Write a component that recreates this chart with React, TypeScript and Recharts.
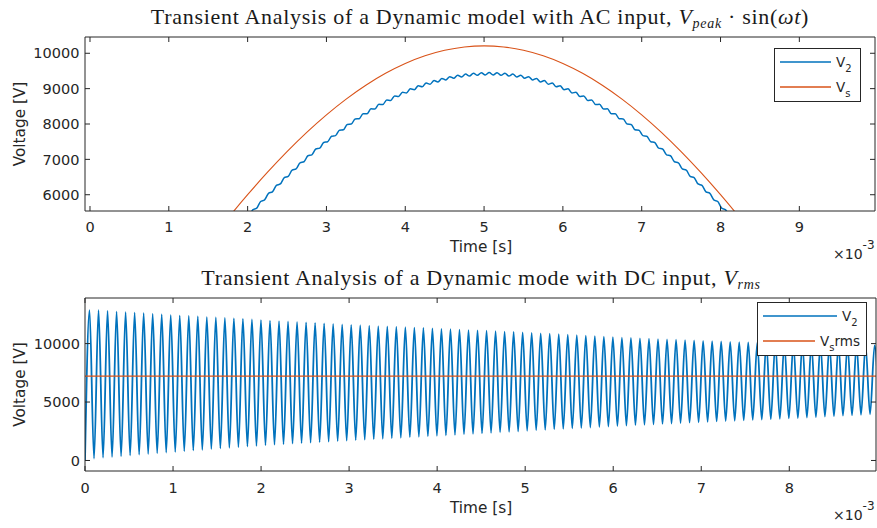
import { LineChart, Line, XAxis, YAxis, Legend } from "recharts";

// ---------- top subplot: AC input (time in ms) ----------
const acTicksX = [0, 1, 2, 3, 4, 5, 6, 7, 8, 9];
const acTicksY = [6000, 7000, 8000, 9000, 10000];

const acSourceTimeMs = [
  1.5, 1.75, 2.0, 2.25, 2.5, 2.75, 3.0, 3.25, 3.5, 3.75, 4.0, 4.25, 4.5, 4.75, 5.0,
  5.25, 5.5, 5.75, 6.0, 6.25, 6.5, 6.75, 7.0, 7.25, 7.5, 7.75, 8.0, 8.25, 8.5,
];
const acSourceV = [
  4635, 5335, 6001, 6631, 7220, 7764, 8260, 8705, 9097, 9433, 9711, 9928, 10084, 10178, 10210,
  10178, 10084, 9928, 9711, 9433, 9097, 8705, 8260, 7764, 7220, 6631, 6001, 5335, 4635,
];

// V2 sampled every half ripple period, starting at 1.865 ms
const acV2StartMs = 1.865;
const acV2StepMs = 0.05;
const acV2 = [
  5083, 5137, 5330, 5382, 5572, 5621, 5809, 5855, 6040, 6083, 6265, 6305, 6483, 6520, 6696, 6730,
  6902, 6932, 7101, 7128, 7293, 7317, 7478, 7498, 7656, 7672, 7826, 7838, 7989, 7997, 8143, 8148,
  8290, 8290, 8428, 8424, 8559, 8550, 8680, 8668, 8794, 8777, 8898, 8877, 8994, 8969, 9081, 9051,
  9159, 9125, 9228, 9189, 9288, 9245, 9339, 9291, 9381, 9328, 9413, 9356, 9436, 9375, 9450, 9384,
  9455,
  9384, 9450, 9375, 9436, 9356, 9413, 9328, 9381, 9291, 9339, 9245, 9288, 9189, 9228, 9125, 9159,
  9051, 9081, 8969, 8994, 8877, 8898, 8777, 8794, 8668, 8680, 8550, 8559, 8424, 8428, 8290, 8290,
  8148, 8143, 7997, 7989, 7838, 7826, 7672, 7656, 7498, 7478, 7317, 7293, 7128, 7101, 6932, 6902,
  6730, 6696, 6520, 6483, 6305, 6265, 6083, 6040, 5855, 5809, 5621, 5572, 5382, 5330, 5137, 5083,
];

// ---------- bottom subplot: DC input ----------
const dcTicksX = [0, 1, 2, 3, 4, 5, 6, 7, 8];
const dcTicksY = [0, 5000, 10000];
const dcPeriodMs = 0.1025;
const dcVsRms = 7220;

// one peak per cycle (half a period after each trough)
const dcPeaks = [
  12850, 12850, 12800, 12740, 12690, 12650, 12600, 12550, 12500, 12440,
  12400, 12360, 12320, 12270, 12230, 12190, 12150, 12110, 12060, 12010,
  11970, 11930, 11890, 11850, 11810, 11770, 11730, 11690, 11650, 11600,
  11570, 11540, 11500, 11470, 11440, 11400, 11370, 11340, 11300, 11260,
  11230, 11200, 11160, 11130, 11100, 11060, 11030, 11000, 10960, 10920,
  10880, 10840, 10800, 10760, 10720, 10680, 10640, 10600, 10560, 10510,
  10480, 10450, 10420, 10390, 10360, 10330, 10300, 10270, 10240, 10200,
  10180, 10150, 10130, 10100, 10080, 10060, 10040, 10010, 9990, 9970,
  9950, 9940, 9920, 9910, 9890, 9880, 9860, 9850,
];
const dcTroughs = [
  0, 170, 240, 300, 370, 430, 500, 560, 620, 680,
  740, 800, 860, 920, 980, 1030, 1090, 1150, 1200, 1250,
  1300, 1350, 1390, 1440, 1480, 1520, 1570, 1610, 1650, 1700,
  1740, 1780, 1820, 1860, 1900, 1940, 1990, 2030, 2070, 2110,
  2150, 2190, 2240, 2280, 2320, 2360, 2410, 2450, 2490, 2540,
  2580, 2620, 2660, 2700, 2740, 2780, 2820, 2860, 2900, 2940,
  2980, 3020, 3050, 3090, 3130, 3160, 3200, 3230, 3270, 3300,
  3340, 3370, 3400, 3440, 3470, 3500, 3530, 3570, 3600, 3630,
  3670, 3710, 3750, 3790, 3830, 3870, 3910, 3950, 3990,
];

const acDomainX: [number, number] = [-0.0634, 9.96];
const acDomainY: [number, number] = [5540, 10460];
const dcDomainX: [number, number] = [0, 8.985];
const dcDomainY: [number, number] = [-900, 13900];

const blue = "#0072BD";
const orange = "#D95319";
const axisColor = "#262626";
const sans = "DejaVu Sans";
const serif = "Liberation Serif";
const tickFont = { fill: axisColor, fontSize: 14.5, fontFamily: sans };

const acVsData = acSourceTimeMs.map((t, i) => ({ t, v: acSourceV[i] }));
const acV2Data = acV2.map((v, i) => ({ t: +(acV2StartMs + i * acV2StepMs).toFixed(3), v }));

const dcV2Data: { t: number; v: number }[] = [];
dcPeaks.forEach((p, k) => {
  dcV2Data.push({ t: k * dcPeriodMs, v: dcTroughs[k] });
  dcV2Data.push({ t: (k + 0.5) * dcPeriodMs, v: p });
});
dcV2Data.push({ t: dcPeaks.length * dcPeriodMs, v: dcTroughs[dcPeaks.length] });
const dcVsData = [
  { t: dcDomainX[0], v: dcVsRms },
  { t: dcDomainX[1], v: dcVsRms },
];

const legendLabels: Record<string, [string, string, string]> = {
  V2: ["V", "2", ""],
  Vs: ["V", "s", ""],
  Vsrms: ["V", "s", "rms"],
};

function LegendBox({ payload, width, height }: any) {
  return (
    <svg width={width} height={height} style={{ display: "block" }}>
      <rect x={0.5} y={0.5} width={width - 1} height={height - 1} fill="#fff" stroke={axisColor} />
      {(payload || []).map((entry: any, i: number) => {
        const y = 14 + i * 25;
        const [main, sub, rest] = legendLabels[entry.value] || [entry.value, "", ""];
        const textX = rest ? width - 47 : width - 25;
        return (
          <g key={entry.value}>
            <line x1={6} x2={textX - 5} y1={y} y2={y} stroke={entry.color} strokeWidth={1.4} />
            <text x={textX} y={y + 4.5} fontFamily={sans} fontSize={13.5} fill={axisColor}>
              {main}
              <tspan fontSize={10} dy={5}>{sub}</tspan>
              {rest && <tspan fontSize={13.5} dy={-5}>{rest}</tspan>}
            </text>
          </g>
        );
      })}
    </svg>
  );
}

function BoxAxes({
  domainX,
  domainY,
  ticksX,
  ticksY,
  xHeight,
  xTickMargin,
  yWidth,
  yTickMargin,
}: any) {
  return [
    <XAxis
      key="xb"
      xAxisId="b"
      type="number"
      dataKey="t"
      domain={domainX}
      allowDataOverflow
      ticks={ticksX}
      interval={0}
      height={xHeight}
      tickSize={-5}
      tickMargin={xTickMargin}
      stroke={axisColor}
      tick={tickFont}
    />,
    <XAxis
      key="xt"
      xAxisId="t"
      orientation="top"
      type="number"
      dataKey="t"
      domain={domainX}
      allowDataOverflow
      ticks={ticksX}
      interval={0}
      height={1}
      tickSize={-5}
      stroke={axisColor}
      tickFormatter={() => ""}
    />,
    <YAxis
      key="yl"
      yAxisId="l"
      type="number"
      domain={domainY}
      allowDataOverflow
      ticks={ticksY}
      interval={0}
      width={yWidth}
      tickSize={-5}
      tickMargin={yTickMargin}
      stroke={axisColor}
      tick={tickFont}
    />,
    <YAxis
      key="yr"
      yAxisId="r"
      orientation="right"
      type="number"
      domain={domainY}
      allowDataOverflow
      ticks={ticksY}
      interval={0}
      width={1}
      tickSize={-5}
      stroke={axisColor}
      tickFormatter={() => ""}
    />,
  ];
}

function Overlay() {
  const label = { fontFamily: sans, fontSize: 15.3, fill: axisColor };
  const title = { fontFamily: serif, fontSize: 22, letterSpacing: 0.7, fill: "#1a1a1a" };
  return (
    <svg
      width={877}
      height={528}
      style={{ position: "absolute", left: 0, top: 0, pointerEvents: "none" }}
    >
      <text x={480} y={24} textAnchor="middle" {...title}>
        Transient Analysis of a Dynamic model with AC input,{" "}
        <tspan fontStyle="italic">V</tspan>
        <tspan fontStyle="italic" fontSize={14} dy={4}>peak</tspan>
        <tspan dy={-4}> · sin(</tspan>
        <tspan fontStyle="italic">ωt</tspan>)
      </text>
      <text x={481} y={285} textAnchor="middle" {...title}>
        Transient Analysis of a Dynamic mode with DC input,{" "}
        <tspan fontStyle="italic">V</tspan>
        <tspan fontStyle="italic" fontSize={14} dy={4}>rms</tspan>
      </text>

      <text {...label} x={25} y={124} textAnchor="middle" transform="rotate(-90 25 124)">
        Voltage [V]
      </text>
      <text {...label} x={25} y={384.5} textAnchor="middle" transform="rotate(-90 25 384.5)">
        Voltage [V]
      </text>
      <text {...label} x={481} y={252} textAnchor="middle">Time [s]</text>
      <text {...label} x={481} y={513} textAnchor="middle">Time [s]</text>

      <text x={833} y={259} fontFamily={sans} fontSize={14} fill={axisColor}>
        ×10<tspan fontSize={12} dy={-10}>-3</tspan>
      </text>
      <text x={833} y={520} fontFamily={sans} fontSize={14} fill={axisColor}>
        ×10<tspan fontSize={12} dy={-10}>-3</tspan>
      </text>
    </svg>
  );
}

export default function App() {
  return (
    <div
      style={{
        position: "absolute",
        left: 0,
        top: 0,
        width: 877,
        height: 528,
        background: "#fff",
        overflow: "hidden",
      }}
    >
      <div style={{ position: "absolute", left: 0, top: 0 }}>
        <LineChart width={877} height={260} margin={{ top: 36, right: 1, bottom: 0, left: 0 }}>
          {BoxAxes({
            domainX: acDomainX,
            domainY: acDomainY,
            ticksX: acTicksX,
            ticksY: acTicksY,
            xHeight: 49,
            xTickMargin: 16,
            yWidth: 85,
            yTickMargin: 10.5,
          })}
          <Legend
            layout="horizontal"
            verticalAlign="middle"
            align="center"
            wrapperStyle={{ left: 774, top: 48, width: 87, height: 54 }}
            content={(props: any) => <LegendBox payload={props.payload} width={87} height={54} />}
          />
          <Line
            xAxisId="b"
            yAxisId="l"
            data={acV2Data}
            dataKey="v"
            name="V2"
            type="monotone"
            stroke={blue}
            strokeWidth={1.5}
            dot={false}
            activeDot={false}
            isAnimationActive={false}
          />
          <Line
            xAxisId="b"
            yAxisId="l"
            data={acVsData}
            dataKey="v"
            name="Vs"
            type="monotone"
            stroke={orange}
            strokeWidth={1.1}
            dot={false}
            activeDot={false}
            isAnimationActive={false}
          />
        </LineChart>
      </div>

      <div style={{ position: "absolute", left: 0, top: 260 }}>
        <LineChart width={877} height={268} margin={{ top: 37, right: 0, bottom: 0, left: 0 }}>
          {BoxAxes({
            domainX: dcDomainX,
            domainY: dcDomainY,
            ticksX: dcTicksX,
            ticksY: dcTicksY,
            xHeight: 57,
            xTickMargin: 17,
            yWidth: 85,
            yTickMargin: 10,
          })}
          <Legend
            layout="horizontal"
            verticalAlign="middle"
            align="center"
            wrapperStyle={{ left: 757, top: 42, width: 110, height: 54 }}
            content={(props: any) => <LegendBox payload={props.payload} width={110} height={54} />}
          />
          <Line
            xAxisId="b"
            yAxisId="l"
            data={dcV2Data}
            dataKey="v"
            name="V2"
            type="monotone"
            stroke={blue}
            strokeWidth={1.8}
            dot={false}
            activeDot={false}
            isAnimationActive={false}
          />
          <Line
            xAxisId="b"
            yAxisId="l"
            data={dcVsData}
            dataKey="v"
            name="Vsrms"
            type="linear"
            stroke={orange}
            strokeWidth={1.3}
            dot={false}
            activeDot={false}
            isAnimationActive={false}
          />
        </LineChart>
      </div>

      <Overlay />
    </div>
  );
}
